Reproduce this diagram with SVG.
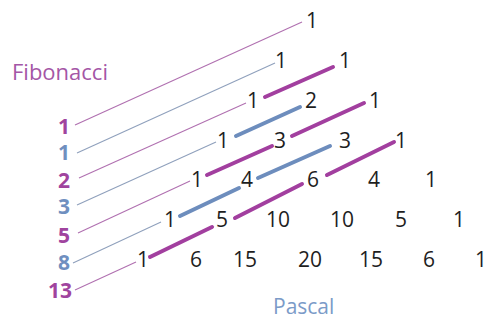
<svg xmlns="http://www.w3.org/2000/svg" width="487" height="320" viewBox="0 0 487 320">
<style>
.p{font-family:"Open Sans","Liberation Sans",sans-serif;font-size:21px;fill:#1e1e1e;text-anchor:middle}
.f{font-family:"Open Sans","Liberation Sans",sans-serif;font-size:21px;font-weight:bold;text-anchor:middle}
.fp{fill:#a0449e}.fb{fill:#6f8fbf}
.t{stroke-width:1.1;fill:none}
.tp{stroke:#b070b0}.tb{stroke:#8fa0bc}
.k{stroke-width:4;stroke-linecap:round;fill:none}
.kp{stroke:#a23f9f}.kb{stroke:#6d8dbd}
</style>
<rect width="487" height="320" fill="#fff"/>
<g id="connectors">
<line class="t tp" x1="75" y1="125" x2="302" y2="22"/>
<line class="t tb" x1="77" y1="153" x2="275" y2="63"/>
<line class="t tp" x1="79" y1="178" x2="246" y2="103"/>
<line class="t tb" x1="77" y1="205" x2="216" y2="142"/>
<line class="t tp" x1="78" y1="233" x2="190" y2="181"/>
<line class="t tb" x1="73" y1="263" x2="161" y2="222"/>
<line class="t tp" x1="75" y1="290" x2="136" y2="262"/>
<line class="k kp" x1="265" y1="97" x2="333" y2="67"/>
<line class="k kb" x1="236" y1="136" x2="300" y2="107"/>
<line class="k kp" x1="207" y1="175" x2="272" y2="146"/>
<line class="k kp" x1="292" y1="136" x2="364" y2="103"/>
<line class="k kb" x1="180" y1="216" x2="239" y2="188"/>
<line class="k kb" x1="258" y1="178" x2="330" y2="146"/>
<line class="k kp" x1="150" y1="257" x2="212" y2="227"/>
<line class="k kp" x1="235" y1="218" x2="302" y2="184"/>
<line class="k kp" x1="327" y1="175" x2="394" y2="142"/>
</g>
<g id="labels">
<text x="12" y="80" font-family="Open Sans, Liberation Sans, sans-serif" font-size="22" fill="#a456a6">Fibonacci</text>
<text x="273" y="314" font-family="Open Sans, Liberation Sans, sans-serif" font-size="21" fill="#7b9bc8">Pascal</text>
</g>
<g id="fibonacci">
<text class="f fp" x="64" y="134">1</text>
<text class="f fb" x="64" y="160">1</text>
<text class="f fp" x="64" y="188">2</text>
<text class="f fb" x="64" y="214">3</text>
<text class="f fp" x="64" y="243">5</text>
<text class="f fb" x="64" y="270">8</text>
<text class="f fp" x="60" y="298">13</text>
</g>
<g id="pascal">
<g id="row0"><text class="p" x="312" y="28">1</text></g>
<g id="row1"><text class="p" x="281" y="68">1</text><text class="p" x="345" y="68">1</text></g>
<g id="row2"><text class="p" x="253" y="108">1</text><text class="p" x="311" y="108">2</text><text class="p" x="375" y="108">1</text></g>
<g id="row3"><text class="p" x="223" y="148">1</text><text class="p" x="280" y="148">3</text><text class="p" x="345" y="148">3</text><text class="p" x="401" y="148">1</text></g>
<g id="row4"><text class="p" x="197" y="187">1</text><text class="p" x="247" y="187">4</text><text class="p" x="313" y="187">6</text><text class="p" x="374" y="187">4</text><text class="p" x="431" y="187">1</text></g>
<g id="row5"><text class="p" x="170" y="227">1</text><text class="p" x="222" y="227">5</text><text class="p" x="278" y="227">10</text><text class="p" x="342" y="227">10</text><text class="p" x="401" y="227">5</text><text class="p" x="459" y="227">1</text></g>
<g id="row6"><text class="p" x="143" y="267">1</text><text class="p" x="196" y="267">6</text><text class="p" x="245" y="267">15</text><text class="p" x="310" y="267">20</text><text class="p" x="371" y="267">15</text><text class="p" x="429" y="267">6</text><text class="p" x="481" y="267">1</text></g>
</g>
</svg>
